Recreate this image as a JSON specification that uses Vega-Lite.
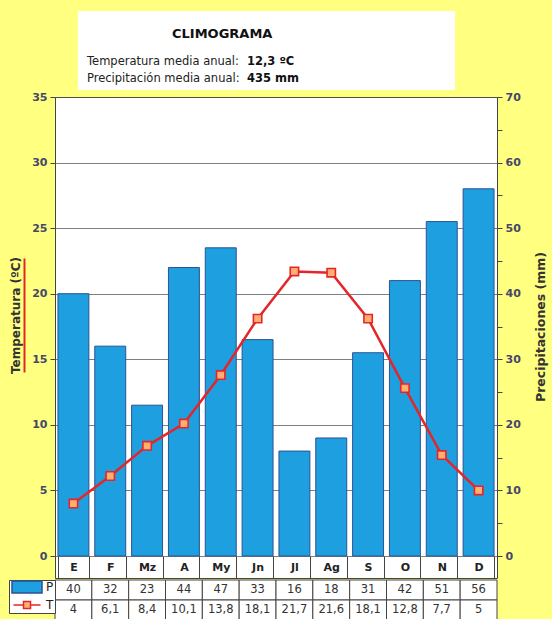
{
  "$schema": "https://vega.github.io/schema/vega-lite/v6.json",
  "background": "#ffff80",
  "padding": {"left": 8, "top": 11, "right": 4, "bottom": 0},
  "spacing": 0,
  "resolve": {"legend": {"shape": "independent", "fill": "independent", "stroke": "independent", "color": "independent"}},
  "config": {
    "view": {"stroke": null},
    "font": "DejaVu Sans",
    "locale": {"number": {"decimal": ",", "thousands": ".", "grouping": [3], "currency": ["", " €"]}}
  },
  "datasets": {
    "clima": [
      {"m": "E", "P": 40, "T": 4},
      {"m": "F", "P": 32, "T": 6.1},
      {"m": "Mz", "P": 23, "T": 8.4},
      {"m": "A", "P": 44, "T": 10.1},
      {"m": "My", "P": 47, "T": 13.8},
      {"m": "Jn", "P": 33, "T": 18.1},
      {"m": "Jl", "P": 16, "T": 21.7},
      {"m": "Ag", "P": 18, "T": 21.6},
      {"m": "S", "P": 31, "T": 18.1},
      {"m": "O", "P": 42, "T": 12.8},
      {"m": "N", "P": 51, "T": 7.7},
      {"m": "D", "P": 56, "T": 5}
    ],
    "resumen": [
      {"k": "Temperatura media anual:", "v": "12,3 ºC"},
      {"k": "Precipitación media anual:", "v": "435 mm"}
    ]
  },
  "vconcat": [
    {
      "spacing": 0,
      "hconcat": [
        {"width": 23, "height": 79, "data": {"values": []}, "mark": "text"},
        {
          "width": 377,
          "height": 79,
          "view": {"fill": "white", "stroke": null},
          "data": {"name": "resumen"},
          "title": {"text": "CLIMOGRAMA", "anchor": "start", "dx": 94, "offset": -30, "fontSize": 13, "fontWeight": "bold", "color": "#111"},
          "encoding": {
            "y": {"field": "k", "type": "nominal", "sort": null, "axis": null, "scale": {"type": "point", "range": [51, 68], "padding": 0}}
          },
          "layer": [
            {"mark": {"type": "text", "align": "left", "baseline": "middle", "fontSize": 11.5, "color": "#222", "x": 9}, "encoding": {"text": {"field": "k"}}},
            {"mark": {"type": "text", "align": "left", "baseline": "middle", "fontSize": 11.5, "fontWeight": "bold", "color": "#111", "x": 169}, "encoding": {"text": {"field": "v"}}}
          ]
        }
      ]
    },
    {
      "width": 442,
      "height": 481,
      "view": {"fill": "white", "stroke": "#444", "strokeWidth": 1},
      "data": {"name": "clima"},
      "encoding": {
        "x": {
          "field": "m", "type": "nominal", "sort": null, "title": null,
          "scale": {"paddingInner": 0.16, "paddingOuter": 0.08},
          "axis": {"orient": "bottom", "domain": false, "ticks": true, "tickBand": "extent", "tickSize": -22, "tickColor": "#444", "labelAngle": 0, "labelFontSize": 11, "labelFontWeight": "bold", "labelColor": "#222", "labelPadding": 11, "labelBaseline": "middle", "grid": false}
        }
      },
      "layer": [
        {
          "mark": {"type": "bar", "fill": "#1e9fe0", "stroke": "#2b5293", "strokeWidth": 1},
          "encoding": {
            "y": {
              "field": "P", "type": "quantitative",
              "scale": {"domain": [0, 70], "range": [459, 0], "nice": false},
              "axis": {"orient": "right", "title": "Precipitaciones (mm)", "values": [0, 5, 10, 15, 20, 25, 30, 35, 40, 45, 50, 55, 60, 65, 70], "labelExpr": "datum.value % 10 === 0 ? datum.label : ''", "grid": false, "domain": false, "tickSize": 5, "tickColor": "#444", "labelFontSize": 11, "labelFontWeight": "bold", "labelColor": "#46466a", "labelPadding": 3, "titleAngle": 270, "titleFontSize": 12.5, "titleFontWeight": "bold", "titleColor": "#333", "titlePadding": 27}
            }
          }
        },
        {
          "layer": [
            {
              "mark": {"type": "line", "color": "#e4262b", "strokeWidth": 2.5},
              "encoding": {
                "y": {
                  "field": "T", "type": "quantitative",
                  "scale": {"domain": [0, 35], "range": [459, 0], "nice": false},
                  "axis": {"orient": "left", "title": "Temperatura (ºC)", "titleY": 218, "values": [0, 2.5, 5, 7.5, 10, 12.5, 15, 17.5, 20, 22.5, 25, 27.5, 30, 32.5, 35], "labelExpr": "datum.value % 5 === 0 ? datum.label : ''", "grid": true, "gridColor": "#555", "gridDash": {"condition": {"test": "datum.value % 5 !== 0", "value": [4, 3]}, "value": [1, 0]}, "domain": false, "tickSize": 5, "tickColor": "#444", "labelFontSize": 11, "labelFontWeight": "bold", "labelColor": "#46466a", "labelPadding": 3, "titleFontSize": 12, "titleFontWeight": "bold", "titleColor": "#333", "titlePadding": 9}
                }
              }
            },
            {
              "mark": {"type": "point", "shape": "square", "size": 70, "filled": true, "fill": "#ffb070", "stroke": "#e4262b", "strokeWidth": 1.6, "opacity": 1},
              "encoding": {"y": {"field": "T", "type": "quantitative"}}
            }
          ]
        },
        {
          "data": {"values": []},
          "mark": "rule",
          "encoding": {
            "y": {
              "field": "u", "type": "quantitative",
              "scale": {"domain": [0, 1], "range": [275, 161], "nice": false},
              "axis": {"orient": "left", "offset": 31, "domain": true, "domainColor": "#e4262b", "domainWidth": 2, "ticks": false, "labels": false, "grid": false, "title": null}
            }
          }
        }
      ],
      "resolve": {"scale": {"y": "independent"}}
    },
    {
      "width": 442,
      "height": 40,
      "data": {"name": "clima"},
      "transform": [{"fold": ["P", "T"], "as": ["s", "v"]}],
      "encoding": {
        "x": {"field": "m", "type": "nominal", "sort": ["E", "F", "Mz", "A", "My", "Jn", "Jl", "Ag", "S", "O", "N", "D"], "axis": null, "scale": {"paddingInner": 0, "paddingOuter": 0}},
        "y": {"field": "s", "type": "nominal", "sort": ["P", "T"], "axis": null, "scale": {"paddingInner": 0, "paddingOuter": 0}}
      },
      "layer": [
        {
          "mark": {"type": "point", "filled": true, "size": 100, "strokeWidth": 1.5, "opacity": 1},
          "encoding": {
            "shape": {
              "field": "s", "type": "nominal",
              "scale": {"domain": ["P", "T"], "range": ["M-3,-1.2H3V1.2H-3Z", "M-2.7,0H-0.7M0.7,0H2.7M-0.7,-0.7H0.7V0.7H-0.7Z"]},
              "legend": {"orient": "left", "offset": 0, "title": null, "padding": 1, "fillColor": "white", "strokeColor": "#444", "symbolSize": 100, "symbolOffset": 11, "labelFontSize": 12, "labelColor": "#222", "labelOffset": 13, "rowPadding": 2}
            },
            "fill": {
              "field": "s", "type": "nominal",
              "scale": {"domain": ["P", "T"], "range": ["#1e9fe0", "#ffb070"]},
              "legend": {"orient": "left", "offset": 0, "title": null, "padding": 1, "fillColor": "white", "strokeColor": "#444", "symbolSize": 100, "symbolOffset": 11, "labelFontSize": 12, "labelColor": "#222", "labelOffset": 13, "rowPadding": 2}
            },
            "stroke": {
              "field": "s", "type": "nominal",
              "scale": {"domain": ["P", "T"], "range": ["#2b5293", "#e4262b"]},
              "legend": {"orient": "left", "offset": 0, "title": null, "padding": 1, "fillColor": "white", "strokeColor": "#444", "symbolSize": 100, "symbolOffset": 11, "labelFontSize": 12, "labelColor": "#222", "labelOffset": 13, "rowPadding": 2}
            }
          }
        },
        {
          "mark": {"type": "rect", "fill": "white", "stroke": "#444", "strokeWidth": 1}
        },
        {
          "mark": {"type": "text", "fontSize": 11.5, "color": "#333", "baseline": "middle"},
          "encoding": {"text": {"field": "v", "type": "quantitative", "format": "~g"}}
        }
      ]
    }
  ]
}
